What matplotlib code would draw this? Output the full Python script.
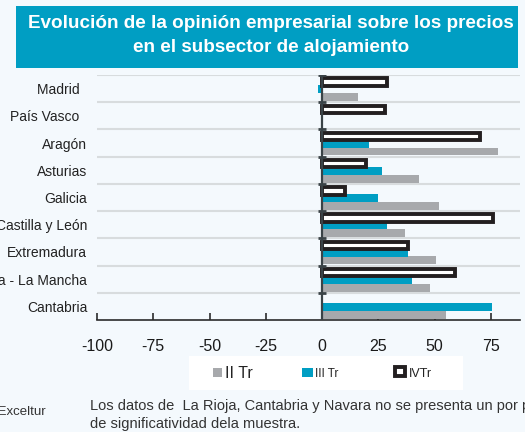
import numpy as np
import matplotlib
matplotlib.use('agg')
import matplotlib.pyplot as plt
from matplotlib.patches import Rectangle

plt.rcParams['font.family'] = ['Liberation Sans', 'DejaVu Sans']

# datos
regiones = ['Madrid  ', 'País Vasco  ', 'Aragón', 'Asturias', 'Galicia',
            'Castilla y León', 'Extremadura', 'Castilla - La Mancha', 'Cantabria']
ii_tr = [16, np.nan, 78, 43, 52, 37, 50.5, 48, 55]
iii_tr = [-2, np.nan, 21, 26.5, 25, 29, 38, 40, 75.5]
iv_tr = [29, 28, 70, 19.5, 10, 76, 38, 59, np.nan]
xticks = [-100, -75, -50, -25, 0, 25, 50, 75]

fondo = '#F4F9FD'
azul = '#009EC3'
gris = '#A7A9AC'
negro = '#231F20'

W, H = 525, 432
fig = plt.figure(figsize=(W / 100, H / 100), dpi=100, facecolor=fondo)


def px(x, y):
    return x / W, 1 - y / H


# caja del titulo
fig.add_artist(Rectangle(px(16, 68), (518 - 16) / W, (68 - 6) / H,
                         transform=fig.transFigure, facecolor=azul, edgecolor='none'))
fig.text(*px(271, 24), 'Evolución de la opinión empresarial sobre los precios',
         color='white', fontsize=13.6, fontweight='bold', ha='center', va='center')
fig.text(*px(271, 48), 'en el subsector de alojamiento',
         color='white', fontsize=13.6, fontweight='bold', ha='center', va='center')

l, r = 97 / W, 520 / W
b, t = 1 - 320 / H, 1 - 75 / H
ax = fig.add_axes([l, b, r - l, t - b])
ax.set_facecolor(fondo)

y = np.arange(len(regiones))
h = 0.29
ax.barh(y + 0.31, ii_tr, height=h, color=gris, zorder=2)
ax.barh(y + 0.03, iii_tr, height=h, color=azul, zorder=2)
ax.barh(y - 0.24, iv_tr, height=h * 0.95, color='white', edgecolor=negro,
        linewidth=2.8, zorder=3)

ax.set_xlim(-100, 88)
ax.set_ylim(len(regiones) - 0.5, -0.5)

# lineas de separacion
limites = np.arange(len(regiones)) - 0.5
for yy in limites:
    ax.axhline(yy, color='#D8DCDE', linewidth=1.5, zorder=1)
ax.axvline(0, color='#3A4347', linewidth=1.6, zorder=4)
ax.hlines(limites, -1.8, 1.8, color='#3A4347', linewidth=2, zorder=4)

for s in ['top', 'right', 'left']:
    ax.spines[s].set_visible(False)
ax.spines['bottom'].set_color('#2B2B2B')
ax.spines['bottom'].set_linewidth(1.2)

ax.set_xticks(xticks)
ax.set_xticklabels([str(v) for v in xticks], fontsize=11.5, color='#1A1A1A')
ax.tick_params(axis='x', direction='in', length=5, width=1.2, color='#2B2B2B', pad=14)
ax.set_yticks(y)
ax.set_yticklabels(regiones, fontsize=10, color='#222222')
ax.tick_params(axis='y', length=0, pad=7)

# leyenda
fig.add_artist(Rectangle(px(189, 390), (463 - 189) / W, (390 - 356) / H,
                         transform=fig.transFigure, facecolor='white', edgecolor='none'))
fig.add_artist(Rectangle(px(213, 377), 9 / W, 9 / H, transform=fig.transFigure,
                         facecolor=gris, edgecolor='none'))
fig.text(*px(225, 373), 'II Tr', fontsize=11.5, ha='left', va='center', color='#222222')
fig.add_artist(Rectangle(px(302, 377), 11 / W, 9 / H, transform=fig.transFigure,
                         facecolor=azul, edgecolor='none'))
fig.text(*px(315, 374), 'III Tr', fontsize=8.5, ha='left', va='center', color='#222222')
fig.add_artist(Rectangle(px(395, 376), 10 / W, 9 / H, transform=fig.transFigure,
                         facecolor='white', edgecolor=negro, linewidth=2.8))
fig.text(*px(409, 374), 'IVTr', fontsize=9, ha='left', va='center', color='#222222')

# pie
fig.text(*px(46, 412), 'Fuente: Exceltur', fontsize=9.5, ha='right', va='center', color='#333333')
fig.text(*px(90, 406), 'Los datos de  La Rioja, Cantabria y Navara no se presenta un por problema',
         fontsize=10.5, ha='left', va='center', color='#333333')
fig.text(*px(90, 424), 'de significatividad dela muestra.',
         fontsize=10.5, ha='left', va='center', color='#333333')

fig.savefig('out.png', dpi=100, facecolor=fondo)
